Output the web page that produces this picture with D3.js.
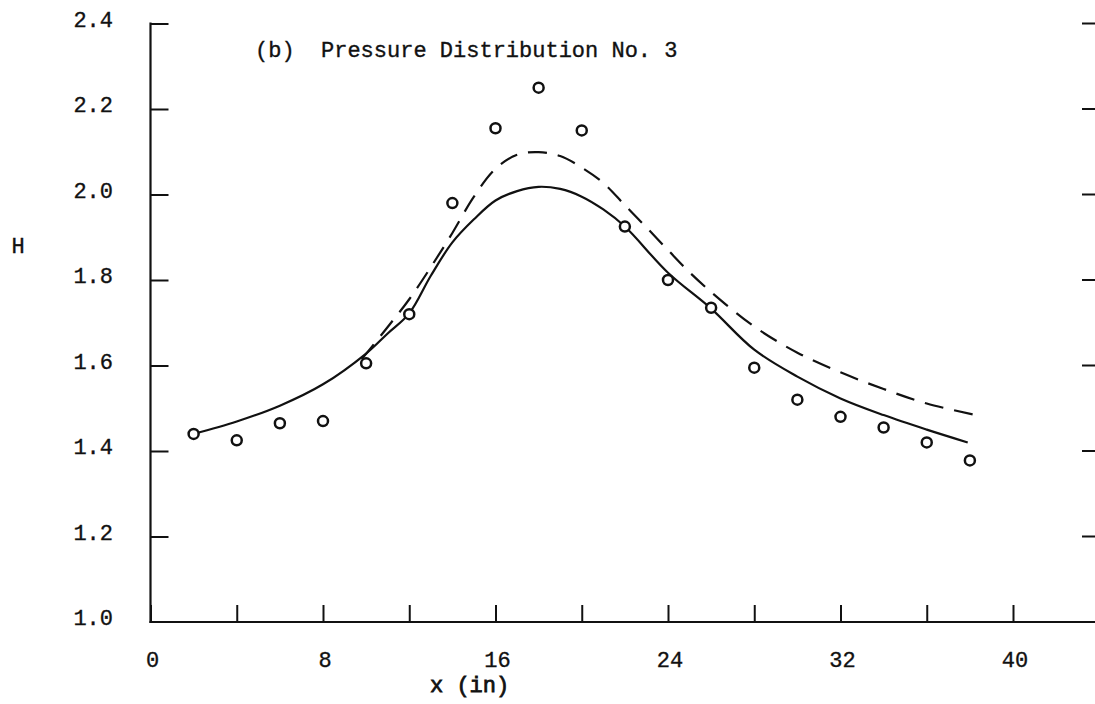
<!DOCTYPE html>
<html>
<head>
<meta charset="utf-8">
<script src="https://cdn.jsdelivr.net/npm/d3@7"></script>
<style>
  html, body { margin: 0; padding: 0; background: #fff; }
  svg text { font-family: 'Liberation Mono', 'DejaVu Sans Mono', monospace; fill: #111; stroke: #111; stroke-width: 0.35px; }
</style>
</head>
<body>
<svg id="chart"></svg>
<script>
// Measured points (x in inches, shape factor H)
const pointX = [2, 4, 6, 8, 10, 12, 14, 16, 18, 20, 22, 24, 26, 28, 30, 32, 34, 36, 38];
const pointH = [1.44, 1.425, 1.465, 1.47, 1.605, 1.72, 1.98, 2.155, 2.25, 2.15,
                1.925, 1.80, 1.735, 1.595, 1.52, 1.48, 1.455, 1.42, 1.378];

// Solid curve
const solidX = [2, 4, 6, 8, 10, 11, 12, 13, 14, 15, 16, 17, 18, 19, 20, 21, 22,
                24, 26, 28, 30, 32, 34, 36, 37.9];
const solidH = [1.44, 1.469, 1.506, 1.556, 1.628, 1.675, 1.722, 1.81, 1.888, 1.942,
                1.986, 2.008, 2.018, 2.013, 1.995, 1.965, 1.925, 1.817, 1.733,
                1.637, 1.574, 1.523, 1.484, 1.450, 1.420];

// Dashed curve
const dashX = [9.8, 11, 12, 13, 14, 15, 16, 17, 18, 19, 20, 21, 22, 23, 24, 25, 26,
               28, 30, 32, 34, 36, 38.2];
const dashH = [1.615, 1.69, 1.755, 1.83, 1.91, 1.995, 2.06, 2.093, 2.099, 2.09, 2.063,
               2.027, 1.975, 1.923, 1.87, 1.818, 1.772, 1.691, 1.630, 1.584, 1.545,
               1.511, 1.485];

const xTicks = [0, 4, 8, 12, 16, 20, 24, 28, 32, 36, 40];
const xLabels = [0, 8, 16, 24, 32, 40];
const yTicks = [1.0, 1.2, 1.4, 1.6, 1.8, 2.0, 2.2, 2.4];

const width = 1095, height = 704;
const svg = d3.select('#chart')
  .attr('width', width)
  .attr('height', height);

const x = d3.scaleLinear().domain([0, 40]).range([150.5, 1013]);
const y = d3.scaleLinear().domain([1.0, 2.4]).range([622, 23.5]);

const ink = '#111';

// Bottom axis (ticks pointing up, labels drawn separately)
const xAxis = svg.append('g')
  .attr('transform', `translate(0,${y(1.0)})`)
  .call(d3.axisBottom(x).tickValues(xTicks).tickSizeInner(-17).tickSizeOuter(0).tickFormat(''));
xAxis.select('.domain').remove();
xAxis.selectAll('line').attr('stroke', ink).attr('stroke-width', 2);

svg.append('line')
  .attr('x1', x(0) - 1).attr('x2', width)
  .attr('y1', y(1.0)).attr('y2', y(1.0))
  .attr('stroke', ink).attr('stroke-width', 2.2);

// Left axis (ticks pointing right)
const yAxis = svg.append('g')
  .attr('transform', `translate(${x(0)},0)`)
  .call(d3.axisLeft(y).tickValues(yTicks.slice(1)).tickSizeInner(-18).tickSizeOuter(0).tickFormat(''));
yAxis.select('.domain').remove();
yAxis.selectAll('line').attr('stroke', ink).attr('stroke-width', 2);

svg.append('line')
  .attr('x1', x(0)).attr('x2', x(0))
  .attr('y1', y(2.4) - 1).attr('y2', y(1.0) + 1)
  .attr('stroke', ink).attr('stroke-width', 2.2);

// Right side ticks
svg.append('g')
  .selectAll('line')
  .data(yTicks.slice(1))
  .join('line')
    .attr('x1', 1082).attr('x2', width)
    .attr('y1', d => y(d)).attr('y2', d => y(d))
    .attr('stroke', ink).attr('stroke-width', 2);

// Tick labels
svg.append('g')
  .selectAll('text')
  .data(xLabels)
  .join('text')
    .attr('x', d => x(d) + 2)
    .attr('y', 667)
    .attr('text-anchor', 'middle')
    .style('font-size', '22px')
    .text(d => d);

svg.append('g')
  .selectAll('text')
  .data(yTicks)
  .join('text')
    .attr('x', 113)
    .attr('y', d => y(d) + 3)
    .attr('text-anchor', 'end')
    .style('font-size', '22px')
    .text(d => d.toFixed(1));

// Axis titles
svg.append('text')
  .attr('x', 18).attr('y', 253)
  .attr('text-anchor', 'middle')
  .style('font-size', '22px')
  .text('H');

svg.append('text')
  .attr('x', 430).attr('y', 692)
  .style('font-size', '22px')
  .style('stroke-width', '0.8px')
  .text('x (in)');

svg.append('text')
  .attr('x', 255).attr('y', 57)
  .style('font-size', '22px')
  .attr('xml:space', 'preserve')
  .style('white-space', 'pre')
  .text('(b)  Pressure Distribution No. 3');

// Curves
const line = d3.line()
  .x(d => x(d[0]))
  .y(d => y(d[1]))
  .curve(d3.curveCatmullRom.alpha(0.5));

svg.append('path')
  .attr('d', line(d3.zip(solidX, solidH)))
  .attr('fill', 'none')
  .attr('stroke', ink)
  .attr('stroke-width', 2.2);

svg.append('path')
  .attr('d', line(d3.zip(dashX, dashH)))
  .attr('fill', 'none')
  .attr('stroke', ink)
  .attr('stroke-width', 2.2)
  .attr('stroke-dasharray', '19,11');

// Data points
svg.append('g')
  .selectAll('circle')
  .data(d3.zip(pointX, pointH))
  .join('circle')
    .attr('cx', d => x(d[0]))
    .attr('cy', d => y(d[1]))
    .attr('r', 5)
    .attr('fill', '#fff')
    .attr('stroke', ink)
    .attr('stroke-width', 2.5);
</script>
</body>
</html>
